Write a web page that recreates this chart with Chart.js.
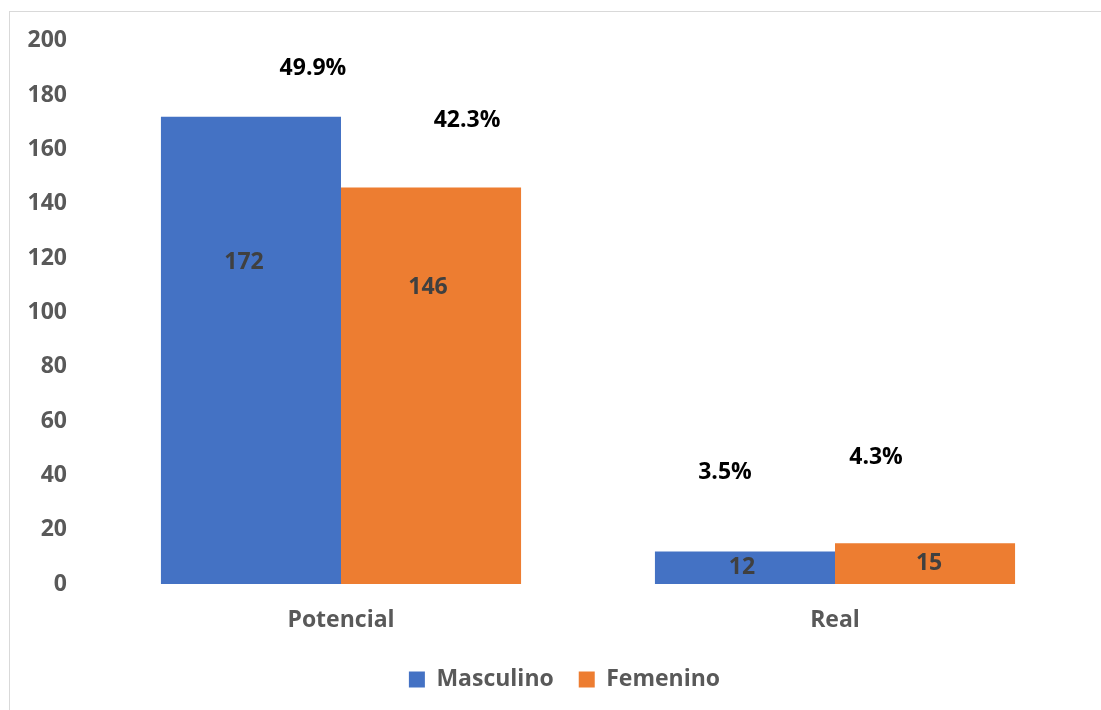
<!DOCTYPE html>
<html>
<head>
<meta charset="utf-8">
<script src="https://cdn.jsdelivr.net/npm/chart.js@4/dist/chart.umd.min.js"></script>
<style>
  html, body { margin: 0; padding: 0; background: #fff; }
  #frame {
    position: absolute; left: 9px; top: 11px; width: 1092px; height: 699px;
    border-left: 1px solid #d9d9d9; border-top: 1px solid #d9d9d9;
  }
  #wrap { position: absolute; left: 0; top: 0; width: 1101px; height: 710px; }
</style>
</head>
<body>
<div id="frame"></div>
<div id="wrap"><canvas id="chart"></canvas></div>
<script>
var categories = ['Potencial', 'Real'];
var masculino = [172, 12];
var femenino = [146, 15];
var pctMasculino = ['49.9%', '3.5%'];
var pctFemenino = ['42.3%', '4.3%'];
var yTicks = [0, 20, 40, 60, 80, 100, 120, 140, 160, 180, 200];

// hand-placed label spots: dx in px from bar centre, y in axis units
var pctPos = [
    [{ dx: 62, y: 189.7 }, { dx: -20, y: 41.2 }],
    [{ dx: 36, y: 170.6 }, { dx: -49, y: 46.7 }]
];
var valuePos = [
    [{ dx: -7, y: 118.4 }, { dx: -3, y: null }],
    [{ dx: -3, y: 109.2 }, { dx: 4, y: null }]
];

var font = "'Open Sans', sans-serif";

var labelPlugin = {
    id: 'barLabels',
    afterLayout: function(chart) {
        // legend sits centred on the whole frame, not on the padded area
        chart.legend.left += 19;
    },
    afterDatasetsDraw: function(chart) {
        var ctx = chart.ctx;
        var yScale = chart.scales.y;
        var pcts = [pctMasculino, pctFemenino];
        ctx.save();
        ctx.textAlign = 'center';
        ctx.textBaseline = 'middle';
        chart.data.datasets.forEach(function(ds, di) {
            var meta = chart.getDatasetMeta(di);
            meta.data.forEach(function(bar, i) {
                var v = valuePos[di][i];
                var vy = v.y === null ? (bar.y + bar.base) / 2 : yScale.getPixelForValue(v.y);
                ctx.font = 'bold 23px ' + font;
                ctx.fillStyle = '#404040';
                ctx.fillText(String(ds.data[i]), bar.x + v.dx, vy);

                var p = pctPos[di][i];
                ctx.fillStyle = '#000000';
                ctx.fillText(pcts[di][i], bar.x + p.dx, yScale.getPixelForValue(p.y));
            });
        });
        ctx.restore();
    }
};

new Chart(document.getElementById('chart').getContext('2d'), {
    type: 'bar',
    data: {
        labels: categories,
        datasets: [{
            label: 'Masculino',
            backgroundColor: '#4472C4',
            data: masculino
        }, {
            label: 'Femenino',
            backgroundColor: '#ED7D31',
            data: femenino
        }]
    },
    options: {
        responsive: true,
        maintainAspectRatio: false,
        animation: false,
        datasets: {
            bar: { categoryPercentage: 0.729, barPercentage: 1.0 }
        },
        layout: {
            padding: { left: 28, right: 19, top: 40, bottom: 9 }
        },
        plugins: {
            tooltip: { enabled: false },
            legend: {
                position: 'bottom',
                labels: {
                    boxWidth: 16,
                    boxHeight: 16,
                    padding: 25,
                    color: '#595959',
                    font: { family: font, size: 23, weight: 'bold' }
                }
            }
        },
        scales: {
            x: {
                grid: { display: false, drawTicks: false },
                border: { display: false },
                ticks: {
                    color: '#595959',
                    padding: 23,
                    font: { family: font, size: 23, weight: 'bold' }
                },
                afterFit: function(scale) { scale.height = 59; }
            },
            y: {
                min: 0,
                max: 200,
                grid: { display: false, drawTicks: false },
                border: { display: false },
                afterBuildTicks: function(scale) {
                    scale.ticks = yTicks.map(function(v) { return { value: v }; });
                },
                ticks: {
                    color: '#595959',
                    padding: 27,
                    font: { family: font, size: 23, weight: 'bold' }
                },
                afterFit: function(scale) { scale.width = 66; }
            }
        }
    },
    plugins: [labelPlugin]
});
</script>
</body>
</html>
